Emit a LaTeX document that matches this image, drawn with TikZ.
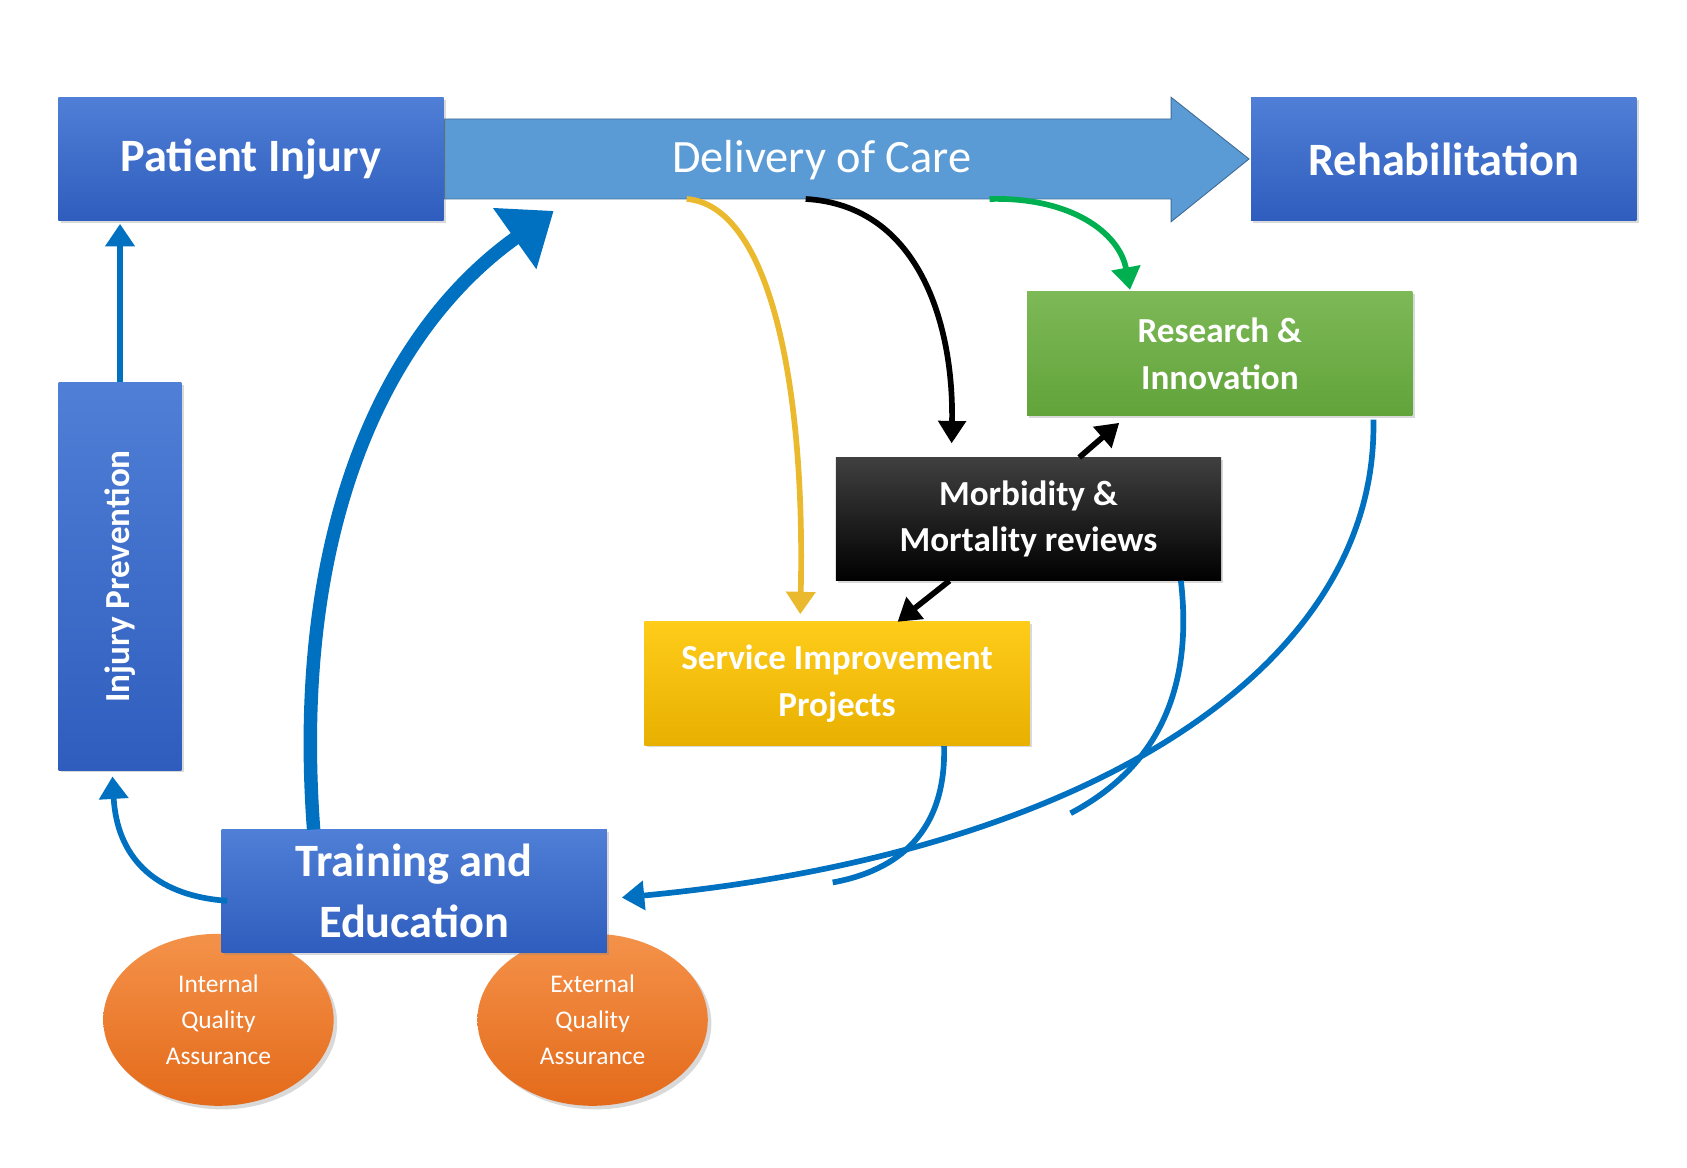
\documentclass[tikz,border=0pt]{standalone}
\usepackage{fontspec}
\setmainfont{Carlito}
\usetikzlibrary{arrows.meta,shadows,shapes.geometric}
\definecolor{bluetop}{HTML}{4F7FD6}
\definecolor{bluebot}{HTML}{2F5DBE}
\definecolor{lineblue}{HTML}{0070C0}
\definecolor{doc}{HTML}{5B9BD5}
\definecolor{gtop}{HTML}{7DB957}
\definecolor{gbot}{HTML}{62A33A}
\definecolor{ytop}{HTML}{FFCC1A}
\definecolor{ybot}{HTML}{E8B000}
\definecolor{otop}{HTML}{F4924A}
\definecolor{obot}{HTML}{E46A1A}
\definecolor{yline}{HTML}{EBB92D}
\definecolor{gline}{HTML}{00B050}
\tikzset{
 box/.style={draw=none,minimum width=257.5pt,minimum height=82.5pt,inner sep=0pt,text=white,font=\bfseries,align=center,drop shadow={opacity=0.3,shadow xshift=1.5pt,shadow yshift=-1.5pt}},
 bluebox/.style={box,top color=bluetop,bottom color=bluebot},
 oval/.style={ellipse,minimum width=154pt,minimum height=115pt,inner sep=0pt,top color=otop,bottom color=obot,text=white,align=center,font=\fontsize{17}{24}\selectfont,drop shadow={opacity=0.3}},
 bl/.style={draw=lineblue,line width=3.8pt,-{Triangle[length=15pt,width=19pt]}},
 blk/.style={draw=black,line width=3.8pt,-{Triangle[length=15pt,width=18pt]}},
}
\begin{document}
\begin{tikzpicture}[x=0.0254cm,y=-0.0254cm]
\useasboundingbox (0,0) rectangle (1560,1080);
\fill[doc,draw=doc!70!black,line width=0.6pt] (411,110) -- (1083,110) -- (1083,90) -- (1155,147) -- (1083,205) -- (1083,184) -- (411,184) -- cycle;
\node[text=white,font=\fontsize{31}{36}\selectfont] (doc) at (760,148) {Delivery of Care};
\node[bluebox,font=\bfseries\fontsize{31}{36}\selectfont] (pi) at (232,147) {Patient Injury};
\node[bluebox,font=\bfseries\fontsize{31}{36}\selectfont] (reh) at (1335,147) {Rehabilitation};
\node[box,top color=gtop,bottom color=gbot,font=\bfseries\fontsize{23.5}{31}\selectfont] (ri) at (1128,327) {Research \&\\Innovation};
\node[box,top color=black!75,bottom color=black,font=\bfseries\fontsize{23.5}{31}\selectfont] (mm) at (951,480) {Morbidity \&\\Mortality reviews};
\node[box,top color=ytop,bottom color=ybot,font=\bfseries\fontsize{23.5}{31}\selectfont] (sip) at (774,632) {Service Improvement\\Projects};
\node[bluebox,minimum width=259pt,minimum height=82pt,rotate=90,font=\bfseries\fontsize{23.5}{28}\selectfont] (ip) at (111,533) {Injury Prevention};
\node[oval] (iqa) at (202,943) {Internal\\Quality\\Assurance};
\node[oval] (eqa) at (548,943) {External\\Quality\\Assurance};
\node[bluebox,font=\bfseries\fontsize{31}{41}\selectfont] (te) at (383,824) {Training and\\Education};
% connectors
\coordinate (ipT) at (111,353); \coordinate (piB) at (111,207);
\draw[bl] (ipT) -- (piB);
\coordinate (teL) at (210,833); \coordinate (ipB) at (104,718);
\draw[bl] (teL) .. controls (140,828) and (108,790) .. (ipB);
\coordinate (teT) at (290,767); \coordinate (docB) at (512,195);
\draw[draw=lineblue,line width=9pt,-{Triangle[length=32pt,width=48pt]}] (teT) .. controls (270,500) and (350,310) .. (docB);
\coordinate (y1) at (635,184); \coordinate (y2) at (740,568);
\draw[draw=yline,line width=3.8pt,-{Triangle[length=15pt,width=19pt]}] (y1) .. controls (710,190) and (745,350) .. (y2);
\coordinate (k1) at (745,184); \coordinate (k2) at (880,410);
\draw[blk] (k1) .. controls (850,190) and (882,300) .. (k2);
\coordinate (g1) at (915,184); \coordinate (g2) at (1045,268);
\draw[draw=gline,line width=3.8pt,-{Triangle[length=15pt,width=19pt]}] (g1) .. controls (990,182) and (1035,215) .. (g2);
\coordinate (mt) at (998,423); \coordinate (rb) at (1035,391);
\draw[blk] (mt) -- (rb);
\coordinate (mb) at (878,537); \coordinate (st) at (830,575);
\draw[blk] (mb) -- (st);
\coordinate (riB) at (1270,388); \coordinate (teR) at (575,830);
\draw[bl] (riB) .. controls (1275,620) and (1000,790) .. (teR);
\coordinate (mmB) at (1092,537); \coordinate (m2) at (990,752);
\draw[draw=lineblue,line width=3.8pt] (mmB) .. controls (1105,650) and (1060,715) .. (m2);
\coordinate (sB) at (873,690); \coordinate (s2) at (770,816);
\draw[draw=lineblue,line width=3.8pt] (sB) .. controls (875,770) and (830,805) .. (s2);
\end{tikzpicture}
\end{document}
